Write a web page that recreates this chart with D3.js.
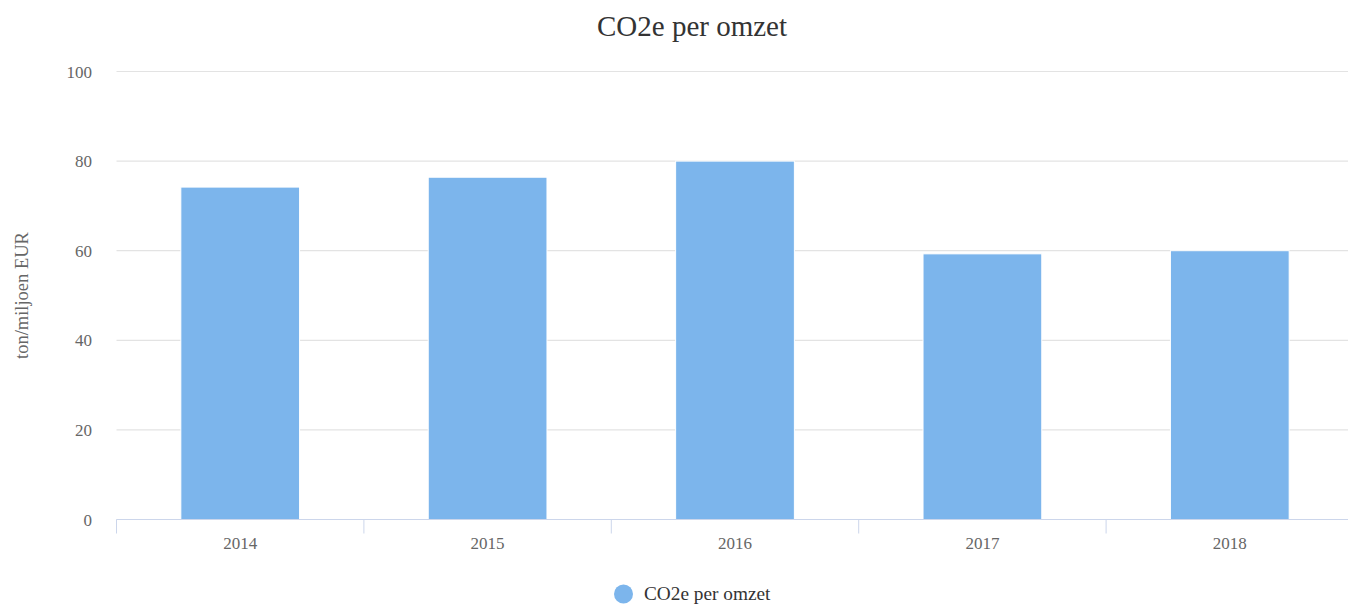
<!DOCTYPE html>
<html>
<head>
<meta charset="utf-8">
<script src="https://cdn.jsdelivr.net/npm/d3@7"></script>
<style>
  html, body { margin: 0; padding: 0; overflow: hidden; background: #fff; }
  svg { display: block; font-family: "Liberation Serif", "Times New Roman", serif; }
</style>
</head>
<body>
<script>
const years = ["2014", "2015", "2016", "2017", "2018"];
const values = [74.2, 76.4, 80.0, 59.3, 60.0];
const yTicks = [0, 20, 40, 60, 80, 100];
const seriesName = "CO2e per omzet";
const yTitle = "ton/miljoen EUR";

// chart is a bit wider than the window, like the original
const width = 1384;
const height = 605;
const margin = {top: 71.5, right: 30.5, bottom: 85.5, left: 116.5};

const svg = d3.select("body")
    .append("svg")
    .attr("width", width)
    .attr("height", height);

const x = d3.scaleBand()
    .domain(years)
    .range([margin.left, width - margin.right])
    .paddingInner(0)
    .paddingOuter(0);

const y = d3.scaleLinear()
    .domain([0, 100])
    .range([height - margin.bottom, margin.top]);

// gridlines
svg.append("g")
    .selectAll("line")
    .data(yTicks)
    .enter()
    .append("line")
    .attr("x1", margin.left)
    .attr("x2", width - margin.right)
    .attr("y1", d => y(d))
    .attr("y2", d => y(d))
    .attr("stroke", "#e3e3e3")
    .attr("stroke-width", 1.2);

// y labels
svg.append("g")
    .selectAll("text")
    .data(yTicks)
    .enter()
    .append("text")
    .attr("x", 92)
    .attr("y", d => y(d) + 6)
    .attr("text-anchor", "end")
    .attr("fill", "#666666")
    .attr("font-size", 17)
    .text(d => d);

// bars
const barW = x.bandwidth() * 0.48;
svg.append("g")
    .selectAll("rect")
    .data(values)
    .enter()
    .append("rect")
    .attr("x", (d, i) => x(years[i]) + (x.bandwidth() - barW) / 2)
    .attr("y", d => y(d))
    .attr("width", barW)
    .attr("height", d => y(0) - y(d))
    .attr("fill", "#7cb5ec")
    .attr("stroke", "#ffffff")
    .attr("stroke-width", 1);

// x axis
const xAxis = d3.axisBottom(x)
    .tickSize(0)
    .tickPadding(17);

const gx = svg.append("g")
    .attr("transform", `translate(0,${y(0)})`)
    .call(xAxis);
gx.select(".domain").attr("stroke", "#ccd6eb").attr("d", `M${margin.left},0H${width - margin.right}`);
gx.selectAll("text")
    .attr("fill", "#666666")
    .attr("font-size", 17)
    .attr("font-family", "Liberation Serif, serif");

// tick marks on band edges
const edges = years.map(d => x(d)).concat([x(years[years.length - 1]) + x.bandwidth()]);
gx.append("g")
    .selectAll("line")
    .data(edges)
    .enter()
    .append("line")
    .attr("x1", d => d)
    .attr("x2", d => d)
    .attr("y1", 0)
    .attr("y2", 14)
    .attr("stroke", "#ccd6eb");

// title
svg.append("text")
    .attr("x", width / 2)
    .attr("y", 36)
    .attr("text-anchor", "middle")
    .attr("fill", "#333333")
    .attr("font-size", 29)
    .text(seriesName);

// y axis title
svg.append("text")
    .attr("transform", `translate(28,${(y(0) + y(100)) / 2}) rotate(-90)`)
    .attr("text-anchor", "middle")
    .attr("fill", "#666666")
    .attr("font-size", 18.5)
    .text(yTitle);

// legend
const legend = svg.append("g");
legend.append("circle")
    .attr("cx", 623.5)
    .attr("cy", 594)
    .attr("r", 9.5)
    .attr("fill", "#7cb5ec");
legend.append("text")
    .attr("x", 644)
    .attr("y", 600)
    .attr("fill", "#333333")
    .attr("font-size", 19.3)
    .text(seriesName);
</script>
</body>
</html>
